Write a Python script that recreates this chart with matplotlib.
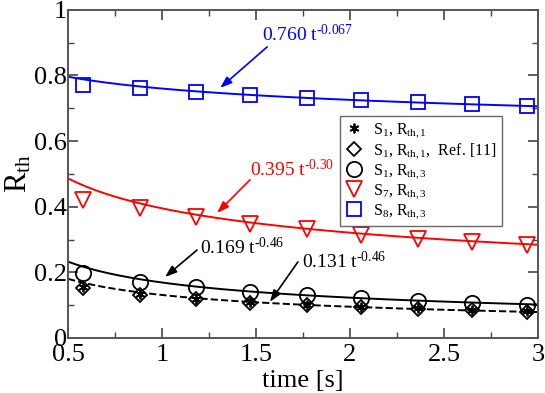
import numpy as np
import matplotlib
matplotlib.use('Agg')
import matplotlib.pyplot as plt
from matplotlib.ticker import MultipleLocator, FormatStrFormatter

plt.rcParams['font.family'] = ['Liberation Serif', 'DejaVu Serif']
plt.rcParams['mathtext.fontset'] = 'custom'
plt.rcParams['mathtext.rm'] = 'Liberation Serif'
plt.rcParams['mathtext.it'] = 'Liberation Serif:italic'

# measured points
t = [0.58, 0.88, 1.18, 1.47, 1.77, 2.06, 2.36, 2.65, 2.94]
s1_r1 = [0.155, 0.133, 0.120, 0.110, 0.102, 0.095, 0.090, 0.085, 0.081]
s1_r1_ref = [0.153, 0.131, 0.118, 0.108, 0.100, 0.094, 0.088, 0.084, 0.080]
s1_r3 = [0.198, 0.171, 0.156, 0.141, 0.131, 0.122, 0.114, 0.108, 0.102]
s7_r3 = [0.420, 0.396, 0.369, 0.348, 0.332, 0.314, 0.302, 0.293, 0.284]
s8_r3 = [0.771, 0.762, 0.750, 0.741, 0.732, 0.726, 0.718, 0.712, 0.706]

# power-law fits a * t^b, as written on the chart
fit_a = [0.760, 0.395, 0.169, 0.131]
fit_b = [-0.067, -0.30, -0.46, -0.46]
fit_txt = ['0.760', '0.395', '0.169', '0.131']
fit_exp = ['-0.067', '-0.30', '-0.46', '-0.46']
fit_col = ['blue', 'red', 'black', 'black']
fit_ls = ['-', '-', '-', '--']

fig = plt.figure(figsize=(5.45, 3.93), dpi=100)
ax = fig.add_axes([0.125, 0.14, 0.862, 0.835])

tt = np.linspace(0.5, 3.0, 200)
for a, b, c, ls in zip(fit_a, fit_b, fit_col, fit_ls):
    ax.plot(tt, a * tt ** b, color=c, ls=ls, lw=1.4, zorder=2)

ax.plot(t, s1_r1, ls='none', marker=(6, 2, 0), ms=7, mec='black', mew=1.3,
        label=r'S$_1$, R$_{\rm th,1}$', zorder=4)
ax.plot(t, s1_r1_ref, ls='none', marker='D', ms=7, mfc='none', mec='black', mew=1.3,
        label=r'S$_1$, R$_{\rm th,1}$,  Ref. [11]', zorder=3)
ax.plot(t, s1_r3, ls='none', marker='o', ms=11, mfc='none', mec='black', mew=1.3,
        label=r'S$_1$, R$_{\rm th,3}$', zorder=3)
ax.plot(t, s7_r3, ls='none', marker='v', ms=11, mfc='none', mec='red', mew=1.3,
        label=r'S$_7$, R$_{\rm th,3}$', zorder=3)
ax.plot(t, s8_r3, ls='none', marker='s', ms=10, mfc='none', mec='blue', mew=1.3,
        label=r'S$_8$, R$_{\rm th,3}$', zorder=3)

# annotation text positions and arrows (data coords)
txt_pos = [(1.532, 0.924), (1.468, 0.512), (1.202, 0.277), (1.745, 0.232)]
arr_from = [(1.559, 0.887), (1.468, 0.482), (1.186, 0.268), (1.723, 0.232)]
arr_to = [(1.309, 0.762), (1.293, 0.381), (1.016, 0.186), (1.574, 0.110)]
arrow = dict(arrowstyle='-|>,head_length=0.7,head_width=0.25', lw=1.2, shrinkA=0, shrinkB=0)
for i in range(4):
    ax.annotate('', xy=arr_to[i], xytext=arr_from[i],
                arrowprops=dict(arrow, color=fit_col[i]))
    ax.text(txt_pos[i][0], txt_pos[i][1],
            fit_txt[i] + r' t$^{\text{' + fit_exp[i] + '}}$',
            color=fit_col[i], fontsize=14, ha='left', va='center')

ax.set_xlim(0.5, 3.0)
ax.set_ylim(0, 1)
ax.xaxis.set_major_locator(MultipleLocator(0.5))
ax.xaxis.set_minor_locator(MultipleLocator(0.25))
ax.yaxis.set_major_locator(MultipleLocator(0.2))
ax.yaxis.set_minor_locator(MultipleLocator(0.1))
ax.xaxis.set_major_formatter(FormatStrFormatter('%g'))
ax.yaxis.set_major_formatter(FormatStrFormatter('%g'))
ax.tick_params(which='both', direction='in', top=True, right=True, color='#444444')
ax.tick_params(which='major', length=7, width=1.2, labelsize=19, pad=1)
ax.tick_params(axis='x', which='major', pad=4)
ax.tick_params(which='minor', length=4, width=1.0)
for sp in ax.spines.values():
    sp.set_color('#555555')
    sp.set_linewidth(1.4)

ax.set_xlabel('time [s]', fontsize=19, labelpad=3)
ax.set_ylabel(r'R$_{\rm th}$', fontsize=22, labelpad=0)

leg = ax.legend(loc='upper left', bbox_to_anchor=(0.578, 0.676), fontsize=11.5,
                frameon=True, fancybox=False, edgecolor='#444444',
                handlelength=1.2, handletextpad=0.6, labelspacing=0.08,
                borderpad=0.3, borderaxespad=0)
leg.get_frame().set_linewidth(1.0)

fig.savefig('out.png', dpi=100)
